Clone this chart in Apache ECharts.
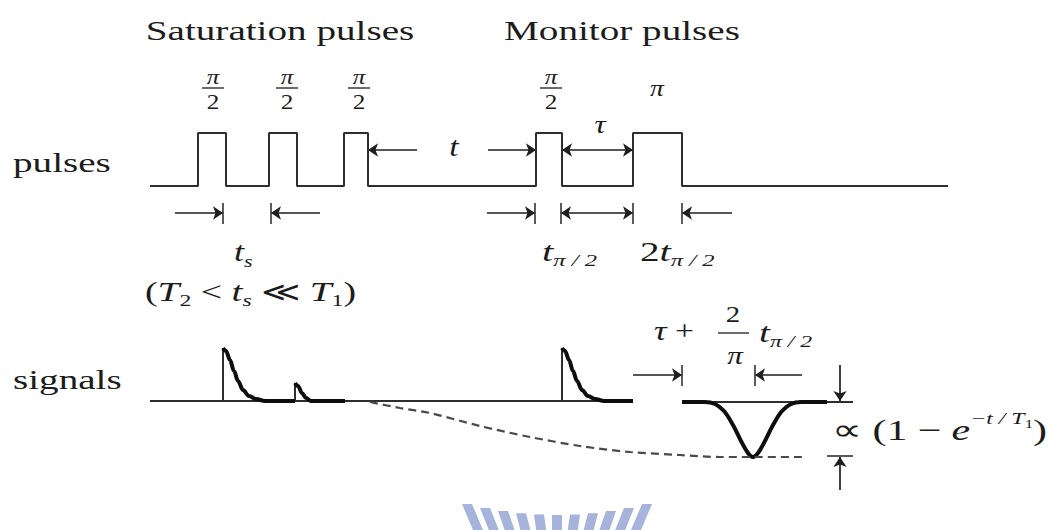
<!DOCTYPE html>
<html><head><meta charset="utf-8">
<script src="https://cdn.jsdelivr.net/npm/echarts@6/dist/echarts.min.js"></script>
<style>html,body{margin:0;padding:0;background:#fff}#c{width:1052px;height:530px}</style>
</head><body><div id="c"></div>
<script>
// ---- data (diagram units: time along x, amplitude along y, y grows downward) ----
const pulseTrain = [[150,186],[198,186],[198,133],[226,133],[226,186],[269,186],[269,133],[297,133],[297,186],
  [344,186],[344,133],[368,133],[368,186],[536,186],[536,133],[562,133],[562,186],[633,186],[633,133],[682,133],[682,186],[948,186]];
const signalBaseline1 = [[150,401],[633,401]];
const signalBaseline2 = [[682,402],[853,402]];
const signalRises = [[[223,401],[223,348]], [[295,401],[295,383]], [[562,401],[562,348]]];
const fid1 = [[223,348],[226,351],[230,360],[234,371],[238,381],[243,390],[249,396],[256,399],[265,401],[295,401]];
const fid2 = [[295,383],[298,386],[302,393],[306,398],[311,401],[345,401]];
const fid3 = [[562,348],[565,351],[569,360],[573,371],[577,381],[582,390],[588,396],[595,399],[604,401],[633,401]];
const echo = [[682,402],[705,402],[715,404],[724,411],[733,425],[741,441],[748,453],[753,457],[758,453],[765,441],[773,425],[782,411],[791,404],[801,402],[827,402]];
const recovery = [[370,402],[400,408],[430,413],[480,426],[530,437],[580,446],[630,452],[680,455],[720,457],[753,457],[803,457]];
const singleArrows = [
  [[417,150],[368,150]], [[488,150],[536,150]],
  [[175,213],[223,213]], [[320,213],[271,213]],
  [[487,213],[535,213]], [[732,213],[682,213]],
  [[633,375],[682,375]], [[802,375],[755,375]],
  [[840,365],[840,401]], [[840,490],[840,457]]
];
const doubleArrows = [ [[562,150],[633,150]], [[561,213],[633,213]] ];
const ticks = [
  [[223,203],[223,224]], [[271,203],[271,224]],
  [[535,203],[535,224]], [[561,203],[561,224]], [[633,203],[633,224]], [[682,203],[682,224]],
  [[682,365],[682,386]], [[755,365],[755,386]],
  [[827,456],[853,456]]
];
const fracCenters = [213, 287, 359, 551];

// ---- styles ----
const INK = '#1c1c1c';
const LINE = '#2e2e2e';
const FONT = 'Liberation Serif';
const SX = 1.45;

function seg(data, width, color, extra) {
  return Object.assign({type:'line', data, symbol:'none', silent:true, animation:false,
    lineStyle:{width, color}}, extra || {});
}
const series = [
  seg(pulseTrain, 2, LINE),
  seg(signalBaseline1, 2, LINE),
  seg(signalBaseline2, 2, LINE),
  ...signalRises.map(r => seg(r, 2, LINE)),
  seg(fid1, 4, '#0d0d0d', {smooth:0.35, smoothMonotone:'x', z:3}),
  seg(fid2, 4, '#0d0d0d', {smooth:0.35, smoothMonotone:'x', z:3}),
  seg(fid3, 4, '#0d0d0d', {smooth:0.35, smoothMonotone:'x', z:3}),
  seg(echo, 4, '#0d0d0d', {smooth:0.35, z:3}),
  seg(recovery, 2, '#4a4a4a', {smooth:0.3, lineStyle:{width:2.2, color:'#4a4a4a', type:[8,5]}}),
  {type:'lines', coordinateSystem:'cartesian2d', silent:true, animation:false, symbol:['none','arrow'], symbolSize:10,
   lineStyle:{color:'#1e1e1e', width:1.7, opacity:1, curveness:0}, data: singleArrows.map(c => ({coords:c}))},
  {type:'lines', coordinateSystem:'cartesian2d', silent:true, animation:false, symbol:['arrow','arrow'], symbolSize:10,
   lineStyle:{color:'#1e1e1e', width:1.7, opacity:1, curveness:0}, data: doubleArrows.map(c => ({coords:c}))},
  {type:'lines', coordinateSystem:'cartesian2d', silent:true, animation:false, symbol:['none','none'],
   lineStyle:{color:'#333', width:1.6, opacity:1, curveness:0}, data: ticks.map(c => ({coords:c}))}
];

function T(x, y, text, o) {
  o = o || {};
  return {type:'text', x, y, scaleX: o.sx || SX, z:10, silent:true,
    style:{text, fill:INK, font: (o.italic?'italic ':'') + (o.size||27) + 'px "' + FONT + '"',
      fontFamily:FONT, fontSize:o.size||27, fontStyle:o.italic?'italic':'normal',
      align:o.align||'center', verticalAlign:'middle', rich:o.rich}};
}
function bar(x1, x2, y) {
  return {type:'line', silent:true, z:10, shape:{x1, y1:y, x2, y2:y}, style:{stroke:INK, lineWidth:1.3}};
}
const rich = {
  n:{fontFamily:FONT, fontSize:27, lineHeight:34, fill:INK},
  i:{fontFamily:FONT, fontSize:28, fontStyle:'italic', lineHeight:34, fill:INK},
  s:{fontFamily:FONT, fontSize:17, fontStyle:'italic', lineHeight:14, verticalAlign:'bottom', fill:INK},
  sn:{fontFamily:FONT, fontSize:17, lineHeight:14, verticalAlign:'bottom', fill:INK},
  p:{fontFamily:FONT, fontSize:30, lineHeight:40, fill:INK},
  pi:{fontFamily:FONT, fontSize:30, fontStyle:'italic', lineHeight:40, fill:INK},
  up:{fontFamily:FONT, fontSize:17, fontStyle:'italic', lineHeight:14, verticalAlign:'top', fill:INK},
  upsub:{fontFamily:FONT, fontSize:12, lineHeight:14, verticalAlign:'top', padding:[8,0,0,0], fill:INK}
};
const graphics = [
  T(280, 31, 'Saturation pulses'),
  T(622, 31, 'Monitor pulses'),
  T(13, 163, 'pulses', {align:'left'}),
  T(13, 380, 'signals', {align:'left'}),
  ...fracCenters.flatMap(cx => [T(cx, 77, 'π', {italic:true, size:21, sx:1.2}), bar(cx-11, cx+11, 88), T(cx, 102, '2', {size:21, sx:1.2})]),
  T(657, 88, 'π', {italic:true, size:23, sx:1.2}),
  T(454, 146, 't', {italic:true, size:28, sx:1.2}),
  T(600, 124, 'τ', {italic:true, size:26, sx:1.2}),
  T(234, 252, '{i|t}{s|s}', {align:'left', rich, sx:1.3}),
  T(145, 292, '{n|(}{i|T}{sn|2}{n| < }{i|t}{s|s}{n| ≪ }{i|T}{sn|1}{n|)}', {align:'left', rich, sx:1.4}),
  T(542, 252, '{i|t}{s|π / 2}', {align:'left', rich, sx:1.45}),
  T(640, 252, '{n|2}{i|t}{s|π / 2}', {align:'left', rich, sx:1.45}),
  T(654, 331, '{i|τ}{n| + }', {align:'left', rich, sx:1.25}),
  T(733, 314, '2', {size:24, sx:1.2}), bar(718, 749, 333), T(735, 355, 'π', {italic:true, size:26, sx:1.2}),
  T(759, 333, '{i|t}{s|π / 2}', {align:'left', rich, sx:1.4}),
  T(832, 430, '{p|∝ (1 − }{pi|e}{up|−t / T}{upsub|1}{p|)}', {align:'left', rich, sx:1.4})
];
// watermark bars (decorative)
const wm = [];
for (let i = -5; i <= 5; i++) {
  const cx = 557 + i * 18, top = 515 - 11 * Math.pow(Math.abs(i) / 5, 2), sl = i * 2.2;
  wm.push({type:'polygon', silent:true, z:1, shape:{points:[[cx-5, top],[cx+5, top],[cx+5-sl, 530],[cx-5-sl, 530]]},
    style:{fill:'#a6b4dc'}});
}

const chart = echarts.init(document.getElementById('c'), null, {renderer:'svg'});
chart.setOption({
  animation:false,
  backgroundColor:'#fff',
  grid:{left:0, right:0, top:0, bottom:0},
  xAxis:{type:'value', min:0, max:1052, show:false},
  yAxis:{type:'value', min:0, max:530, inverse:true, show:false},
  series,
  graphic: graphics.concat(wm)
});
</script></body></html>
